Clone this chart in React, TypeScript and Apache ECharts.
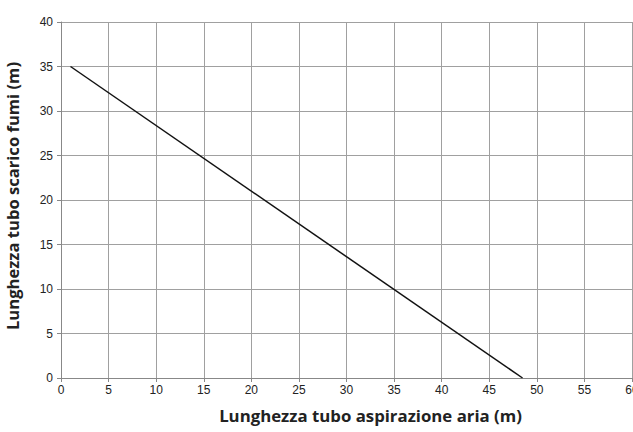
import React, { useEffect, useRef } from "react";
import * as echarts from "echarts";

const xTitle = "Lunghezza tubo aspirazione aria (m)";
const yTitle = "Lunghezza tubo scarico fumi (m)";
const lineX = [1, 48.5];
const lineY = [35, 0];

export default function App() {
  const ref = useRef<HTMLDivElement>(null);
  useEffect(() => {
    document.body.style.margin = "0";
    const chart = echarts.init(ref.current!, null, { renderer: "svg" });
    chart.setOption({
      animation: false,
      backgroundColor: "#ffffff",
      grid: { left: 61, right: 1, top: 22, bottom: 54, containLabel: false, outerBoundsMode: "none" },
      xAxis: {
        type: "value",
        min: 0,
        max: 60,
        interval: 5,
        name: xTitle,
        nameLocation: "middle",
        nameGap: 29,
        nameTextStyle: {
          fontFamily: "Open Sans",
          fontWeight: "bold",
          fontSize: 16.8,
          color: "#222",
          padding: [0, 0, 0, 48],
        },
        axisLine: { show: true, lineStyle: { color: "#888", width: 1 } },
        axisTick: { show: true, length: 4, lineStyle: { color: "#888" } },
        axisLabel: { fontFamily: "Liberation Sans", fontSize: 12, color: "#222", margin: 6 },
        splitLine: { show: true, lineStyle: { color: "#a0a0a0", width: 1 } },
      },
      yAxis: {
        type: "value",
        min: 0,
        max: 40,
        interval: 5,
        name: yTitle,
        nameLocation: "middle",
        nameGap: 40,
        nameTextStyle: {
          fontFamily: "Open Sans",
          fontWeight: "bold",
          fontSize: 16.6,
          color: "#222",
          padding: [0, 0, 0, 8],
        },
        axisLine: { show: true, lineStyle: { color: "#888", width: 1 } },
        axisTick: { show: true, length: 4, lineStyle: { color: "#888" } },
        axisLabel: { fontFamily: "Liberation Sans", fontSize: 12, color: "#222", margin: 8 },
        splitLine: { show: true, lineStyle: { color: "#a0a0a0", width: 1 } },
      },
      series: [
        {
          type: "line",
          data: lineX.map((x, i) => [x, lineY[i]]),
          symbol: "none",
          lineStyle: { color: "#111", width: 1.5 },
        },
      ],
    });
    return () => chart.dispose();
  }, []);
  return <div ref={ref} style={{ width: 633, height: 432 }} />;
}
